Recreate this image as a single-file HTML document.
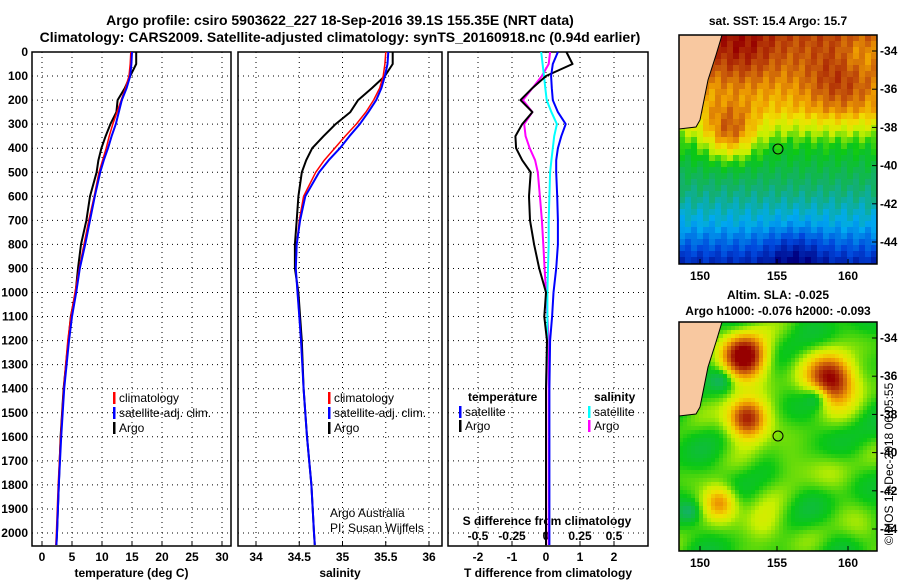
<!DOCTYPE html>
<html><head><meta charset="utf-8"><style>
body{margin:0;background:#fff}
svg{display:block;font-family:"Liberation Sans",sans-serif}
.b{font-weight:bold;font-size:12px}
.t{font-weight:bold;font-size:14px}
.n{font-size:12px}
</style></head><body>
<svg id="s" width="900" height="580" viewBox="0 0 900 580">
<text class="t" x="340" y="25" text-anchor="middle">Argo profile: csiro 5903622_227 18-Sep-2016 39.1S 155.35E (NRT data)</text>
<text class="t" x="340" y="42" text-anchor="middle">Climatology: CARS2009. Satellite-adjusted climatology: synTS_20160918.nc (0.94d earlier)</text>
<text class="b" x="778" y="25" text-anchor="middle">sat. SST: 15.4 Argo: 15.7</text>
<text class="b" x="778" y="299" text-anchor="middle">Altim. SLA: -0.025</text>
<text class="b" x="778" y="315" text-anchor="middle">Argo h1000: -0.076 h2000: -0.093</text>
<text class="n" transform="translate(893,545) rotate(-90)">©IMOS 13-Dec-2018 06:05:55</text>
<g id="g"></g>
</svg>
<script>
const depths=[0,50,100,150,200,250,300,350,400,450,500,600,700,800,900,1000,1100,1200,1400,1600,1800,2000,2050];
const tempArgo=[15.7,15.7,14.7,13.8,12.6,12.4,11.4,10.6,9.9,9.4,9.1,8.0,7.4,6.5,6.0,5.6,4.8,4.4,3.6,3.1,2.8,2.5,2.4];
const tempClim=[14.8,14.7,14.5,13.9,13.2,12.5,11.8,11.2,10.7,10.1,9.5,8.7,7.8,7.0,6.2,5.5,4.8,4.3,3.6,3.1,2.7,2.4,2.3];
const tempSat=[15.0,14.9,14.7,14.1,13.3,12.8,12.3,11.6,11.0,10.3,9.7,8.8,8.0,7.2,6.3,5.7,5.0,4.5,3.7,3.2,2.8,2.5,2.4];
const salArgo=[35.58,35.58,35.49,35.34,35.18,35.09,34.92,34.78,34.65,34.58,34.53,34.49,34.47,34.45,34.45,34.49,34.51,34.53,34.55,34.59,34.64,34.67,34.68];
const salClim=[35.5,35.49,35.47,35.43,35.36,35.27,35.16,35.03,34.91,34.79,34.69,34.55,34.5,34.47,34.46,34.48,34.5,34.52,34.55,34.59,34.64,34.67,34.68];
const salSat=[35.53,35.52,35.49,35.45,35.39,35.3,35.2,35.08,34.97,34.84,34.73,34.57,34.51,34.47,34.46,34.48,34.5,34.52,34.55,34.59,34.64,34.67,34.68];
const tDiffArgo=[0.6,0.78,0.0,-0.4,-0.75,-0.4,-0.7,-0.9,-0.88,-0.7,-0.45,-0.5,-0.47,-0.35,-0.2,0,-0.05,0.03,0,0,0,0,0];
const tDiffSat=[0.35,0.2,0.15,0.17,0.2,0.35,0.58,0.45,0.35,0.3,0.3,0.33,0.35,0.35,0.3,0.22,0.18,0.12,0.1,0.1,0.1,0.1,0.1];
const sDiffArgo=[0.03,0.02,-0.03,-0.1,-0.17,-0.1,-0.16,-0.15,-0.12,-0.08,-0.06,-0.045,-0.03,-0.02,-0.01,0,0.01,0.02,0.02,0.02,0.02,0.02,0.02];
const sDiffSat=[-0.035,-0.025,-0.015,-0.005,0.005,0.04,0.08,0.06,0.05,0.04,0.03,0.025,0.02,0.02,0.015,0.01,0.01,0.01,0,0,0,0,0];
const depthTicks=[0,100,200,300,400,500,600,700,800,900,1000,1100,1200,1300,1400,1500,1600,1700,1800,1900,2000];
const tempTicks=[0,5,10,15,20,25,30];
const salTicks=[34,34.5,35,35.5,36];
const salTickLabels=["34","34.5","35","35.5","36"];
const tdTicks=[-2,-1,0,1,2];
const sdTicks=[-0.5,-0.25,0,0.25,0.5];
const sdTickLabels=["-0.5","-0.25","0","0.25","0.5"];

const NS="http://www.w3.org/2000/svg";
const G=document.getElementById('g');
function el(t,a,p){const e=document.createElementNS(NS,t);for(const k in a)e.setAttribute(k,a[k]);(p||G).appendChild(e);return e;}
const Y0=52,Y1=546;
const yD=d=>Y0+d*0.2405;
function lin(d0,d1,r0,r1){return v=>r0+(v-d0)/(d1-d0)*(r1-r0);}
const xT=lin(0,30,42,222), xS=lin(34,36,256,429), xTD=lin(0,1,546,580), xSD=v=>xTD(v*4);

function panel(x0,x1,name,xs,ticks,labels,title){
  const g=el('g',{});
  
  
  depthTicks.forEach(d=>{const l=el('line',{x1:x0,x2:x1,y1:yD(d),y2:yD(d),stroke:'#000','stroke-dasharray':'1,4','stroke-width':1},g);});
  ticks.forEach((v,i)=>{const x=xs(v);
    const l=el('line',{x1:x,x2:x,y1:Y0,y2:Y1,stroke:'#000','stroke-dasharray':'1,4'},g);
    el('line',{x1:x,x2:x,y1:Y1,y2:Y1-5,stroke:'#000'},g);
    if(labels){const t=el('text',{x:x,y:561,'text-anchor':'middle',class:'b'},g);t.textContent=labels[i];}
  });
  const r=el('rect',{x:x0,y:Y0,width:x1-x0,height:Y1-Y0,fill:'none',stroke:'#000','stroke-width':1.5},g);
  
  const t=el('text',{x:(x0+x1)/2,y:577,'text-anchor':'middle',class:'b'},g);t.textContent=title;
  
  return g;
}
function line(xs,vals,color,w,name){
  const pts=depths.map((d,i)=>xs(vals[i]).toFixed(1)+','+yD(d).toFixed(1)).join(' ');
  const p=el('polyline',{points:pts,fill:'none',stroke:color,'stroke-width':w,'stroke-linejoin':'round'});
  
}
panel(32,231,'temperature-panel',xT,tempTicks,tempTicks.map(String),'temperature (deg C)');
panel(238,442,'salinity-panel',xS,salTicks,salTickLabels,'salinity');
panel(448,648,'difference-panel',xTD,tdTicks,tdTicks.map(String),'T difference from climatology');
depthTicks.forEach(d=>{const t=el('text',{x:28,y:yD(d)+4,'text-anchor':'end',class:'b'});t.textContent=d;});
{const t=el('text',{x:547,y:525,'text-anchor':'middle',class:'b'});t.textContent='S difference from climatology';
sdTicks.forEach((v,i)=>{const t=el('text',{x:xSD(v),y:540,'text-anchor':'middle',class:'b'});t.textContent=sdTickLabels[i];});}

line(xT,tempArgo,'#000',2,'temp-argo-line');
line(xT,tempClim,'#f00',1.5,'temp-climatology-line');
line(xT,tempSat,'#00f',2,'temp-satellite-line');
line(xS,salArgo,'#000',2,'sal-argo-line');
line(xS,salClim,'#f00',1.5,'sal-climatology-line');
line(xS,salSat,'#00f',2,'sal-satellite-line');
line(xSD,sDiffArgo,'#f0f',2,'s-diff-argo-line');
line(xSD,sDiffSat,'#0ff',2,'s-diff-satellite-line');
line(xTD,tDiffArgo,'#000',2,'t-diff-argo-line');
line(xTD,tDiffSat,'#00f',2,'t-diff-satellite-line');

function leg(x,y,color,txt,name){
  const g=el('g',{});
  el('rect',{x:x,y:y-10,width:2.5,height:12,fill:color},g);
  const t=el('text',{x:x+6,y:y,class:'n'},g);t.textContent=txt;
}
leg(113,402,'#f00','climatology','legend-temp-climatology');
leg(113,417,'#00f','satellite-adj. clim.','legend-temp-satellite');
leg(113,432,'#000','Argo','legend-temp-argo');
leg(328,402,'#f00','climatology','legend-sal-climatology');
leg(328,417,'#00f','satellite-adj. clim.','legend-sal-satellite');
leg(328,432,'#000','Argo','legend-sal-argo');
{const t=el('text',{x:468,y:401,class:'b'});t.textContent='temperature';
const t2=el('text',{x:594,y:401,class:'b'});t2.textContent='salinity';}
leg(459,416,'#00f','satellite','legend-tdiff-satellite');
leg(459,430,'#000','Argo','legend-tdiff-argo');
leg(588,416,'#0ff','satellite','legend-sdiff-satellite');
leg(588,430,'#f0f','Argo','legend-sdiff-argo');
{const a=el('text',{x:330,y:517,class:'n'});a.textContent='Argo Australia';
const b=el('text',{x:330,y:532,class:'n'});b.textContent='PI: Susan Wijffels';}

const cm=[[0,[0,0,128]],[0.15,[0,70,220]],[0.3,[0,170,240]],[0.42,[20,175,110]],[0.55,[10,200,20]],[0.65,[200,240,0]],[0.72,[240,225,0]],[0.8,[240,160,0]],[0.88,[200,90,10]],[1,[150,0,0]]];
function col(v){v=Math.max(0,Math.min(1,v));for(let i=1;i<cm.length;i++){if(v<=cm[i][0]){const a=cm[i-1],b=cm[i],f=(v-a[0])/(b[0]-a[0]);return 'rgb('+a[1].map((c,k)=>Math.round(c+f*(b[1][k]-c))).join(',')+')';}}return 'rgb(150,0,0)';}
function gs(x,y,cx,cy,r,a){return a*Math.exp(-((x-cx)**2+(y-cy)**2)/(2*r*r));}
function map(top,name,field,cell){
  const g=el('g',{});
  for(let y=top;y<top+229;y+=cell)for(let x=679;x<877;x+=cell){
    el('rect',{x:x,y:y,width:Math.min(cell,877-x)+0.3,height:Math.min(cell,top+229-y)+0.3,fill:col(field(x+cell/2,y+cell/2-top))},g);}
  const land=[[679,0],[722,0],[716,20],[708,45],[703,70],[700,85],[696,92],[679,94]];
  const lp=el('polygon',{points:land.map(p=>p[0]+','+(p[1]+top)).join(' '),fill:'#f8c8a0',stroke:'#000','stroke-width':1},g);
  
  const c=el('circle',{cx:778,cy:top+114,r:5,fill:'none',stroke:'#000','stroke-width':1},g);
  
  el('rect',{x:679,y:top,width:198,height:229,fill:'none',stroke:'#000','stroke-width':1.5},g);
  [-34,-36,-38,-40,-42,-44].forEach((lat,i)=>{const y=top+16+i*38.2;el('line',{x1:872,x2:877,y1:y,y2:y,stroke:'#000'},g);
    const t=el('text',{x:880,y:y+4,class:'b'},g);t.textContent=lat;});
  [[150,700],[155,777],[160,848]].forEach(([l,x])=>{el('line',{x1:x,x2:x,y1:top+229,y2:top+224,stroke:'#000'},g);
    const t=el('text',{x:x,y:top+245,'text-anchor':'middle',class:'b'},g);t.textContent=l;});
}
map(35,'sst-map',(x,y)=>{let v;
  if(y<75)v=0.9-(y/75)*0.15;else if(y<110)v=0.75-(y-75)/35*0.2;else if(y<150)v=0.55-(y-110)/40*0.12;else if(y<190)v=0.43-(y-150)/40*0.13;else v=0.3-(y-190)/39*0.22;
  v+=gs(x,y,740,15,25,0.1)+gs(x,y,840,50,25,0.12)+gs(x,y,730,100,18,0.25)+gs(x,y,795,220,20,-0.1)-gs(x,y,860,20,15,0.08);
  v+=0.03*Math.sin(x*1.7+y*0.9);return v;},6);
map(322,'sla-map',(x,y)=>{let v=0.555+0.035*Math.sin(x*0.09+1)*Math.cos(y*0.07)+0.03*Math.sin(x*0.05+y*0.11)
  +gs(x,y,745,35,16,0.5)+gs(x,y,832,58,17,0.48)+gs(x,y,747,97,14,0.45)+gs(x,y,720,180,12,0.27)+gs(x,y,765,205,15,0.13)
  +gs(x,y,785,140,14,0.08)+gs(x,y,835,150,16,0.06)+gs(x,y,860,210,14,0.06)-gs(x,y,817,75,8,0.15)-gs(x,y,722,58,8,0.12)-gs(x,y,690,190,7,0.1);return v;},4);
</script>
</body></html>
